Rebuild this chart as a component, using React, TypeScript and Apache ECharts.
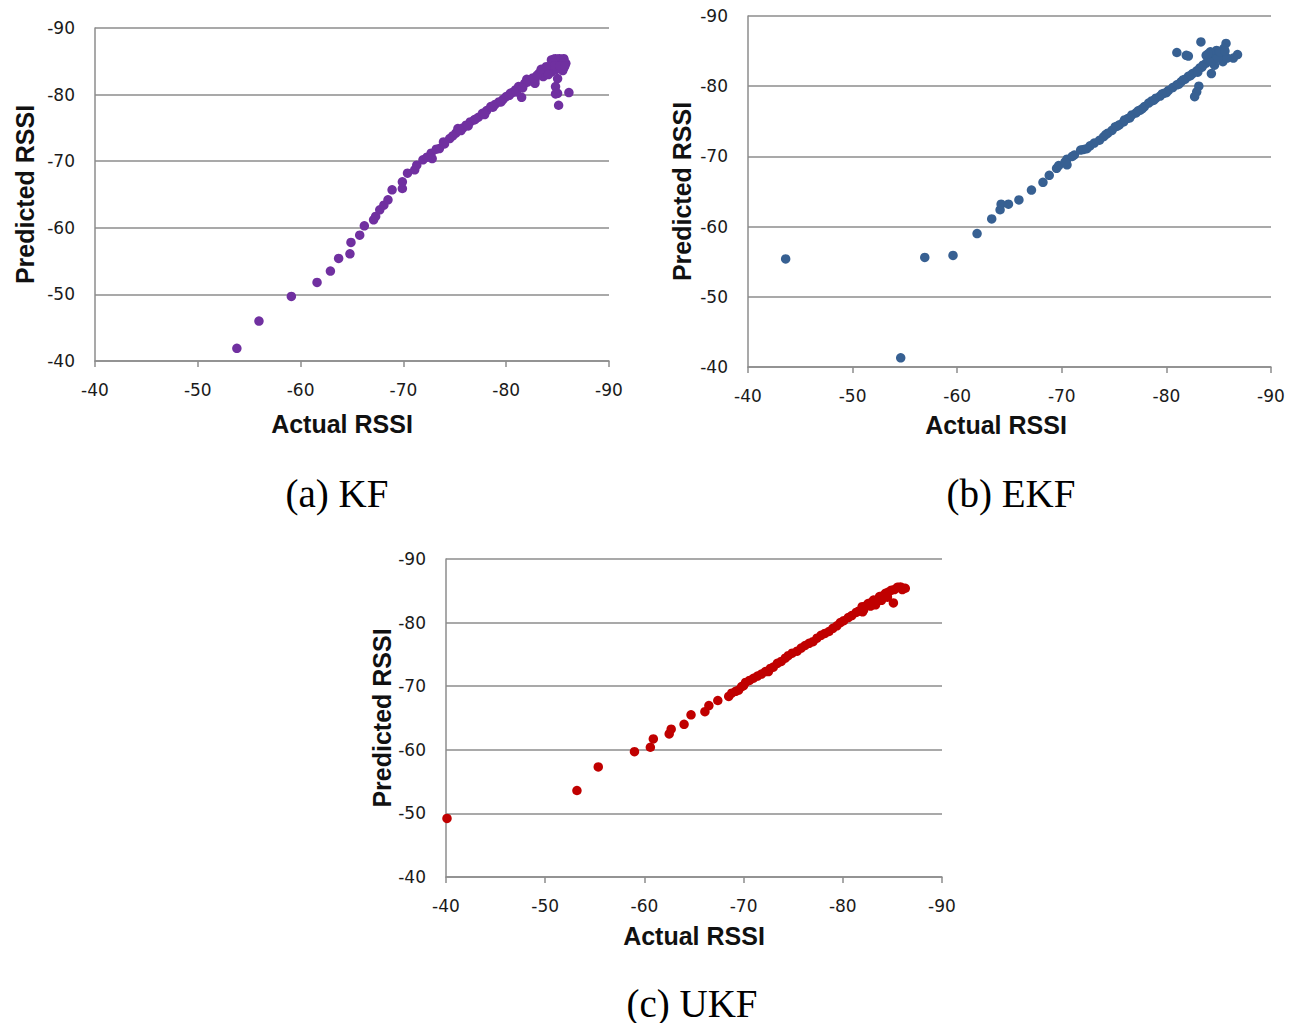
import React, { useEffect, useRef } from "react";
import * as echarts from "echarts";

// ---------- data ----------
const kfActual = [
  -53.8, -55.95, -59.1, -61.6, -62.9, -63.7, -64.8, -64.9, -65.75, -66.2, -67.1, -67.3, -67.7, -68.1, -68.5,
  -68.9, -69.9, -69.9, -70.4, -71.1, -71.3, -71.9, -72.7, -72.8, -73.5, -73.9, -74.5, -75.1, -75.3, -75.8,
  -76.1, -76.5, -76.9, -77.3, -77.7, -78.1, -78.5, -78.9, -79.3, -79.7, -80.0, -80.3, -80.6, -80.9, -81.2,
  -81.5, -81.8, -82.1, -82.4, -82.8, -82.8, -83.2, -83.5, -83.6, -83.8, -84.0, -84.2, -84.4, -84.4, -84.6,
  -84.8, -84.8, -85.0, -84.8, -85.0, -85.1, -85.2, -85.4, -85.6, -85.8, -85.5, -86.1, -85.1, -85.6, -84.8,
  -84.6, -85.1, -85.6, -84.6, -85.6, -84.7, -85.2, -85.7,
  -72.3, -73.2, -74.0, -74.8, -75.6, -76.3, -77.0, -77.9, -78.7, -79.5, -80.4, -81.0, -81.6, -82.0, -82.6,
  -83.0, -83.4, -83.9, -84.1,
];
const kfPredicted = [
  -41.9, -46.0, -49.7, -51.8, -53.5, -55.4, -56.1, -57.8, -58.9, -60.3, -61.2, -61.7, -62.7, -63.4, -64.2,
  -65.7, -65.9, -66.9, -68.2, -68.7, -69.4, -70.2, -71.2, -70.4, -71.9, -72.9, -73.4, -74.2, -74.9, -75.0,
  -75.4, -75.9, -76.2, -76.6, -77.2, -77.6, -78.2, -78.5, -78.9, -79.3, -79.7, -79.9, -80.3, -80.7, -81.2,
  -79.6, -81.7, -81.9, -82.2, -81.7, -82.2, -83.2, -83.4, -82.7, -83.7, -83.9, -84.2, -83.4, -85.2, -84.7,
  -85.4, -83.7, -82.4, -81.2, -80.2, -78.4, -85.4, -84.2, -85.4, -84.7, -83.6, -80.3, -84.9, -84.0, -80.1,
  -85.3, -85.3, -85.3, -84.8, -84.8, -84.3, -84.3, -84.3,
  -70.6, -71.8, -72.6, -73.8, -74.6, -75.3, -76.3, -77.0, -78.1, -78.9, -80.2, -80.4, -81.0, -82.3, -82.5,
  -82.9, -83.8, -84.2, -83.0,
];

const ekfActual = [
  -43.6, -54.6, -56.9, -59.6, -61.9, -63.3, -64.1, -64.2, -64.9, -65.9, -67.1, -68.2, -68.8, -69.5, -69.7,
  -70.5, -70.5, -71.2, -71.8, -72.1, -72.7, -73.6, -74.0, -74.4, -74.8, -75.1, -75.5, -75.9, -76.3, -76.7,
  -77.1, -77.5, -77.9, -78.3, -78.6, -79.0, -79.4, -79.8, -80.2, -80.6, -81.0, -81.4, -81.8, -82.1, -82.5,
  -82.9, -83.2, -83.5, -83.8, -84.1, -84.4, -84.7, -85.0, -85.3, -85.7, -83.3, -81.0, -81.9, -82.1, -86.8,
  -86.4, -84.3, -83.1, -82.9, -82.7, -84.8, -85.4, -83.8, -84.6, -85.5, -84.2, -85.8,
  -74.2, -75.3, -76.5, -77.7, -78.8, -80.0, -81.2, -82.3, -83.4, -84.3, -84.9, -85.1, -85.6, -84.0, -83.0,
  -81.6, -79.6, -77.3, -76.0, -73.1, -72.4, -71.0, -70.3,
];
const ekfPredicted = [
  -55.4, -41.3, -55.6, -55.9, -59.0, -61.1, -62.4, -63.2, -63.2, -63.8, -65.2, -66.3, -67.3, -68.3, -68.7,
  -68.8, -69.6, -70.2, -70.9, -71.0, -71.5, -72.3, -72.8, -73.3, -73.7, -74.2, -74.5, -74.9, -75.4, -75.9,
  -76.2, -76.6, -77.1, -77.6, -77.9, -78.3, -78.6, -79.0, -79.4, -79.8, -80.2, -80.6, -81.0, -81.4, -81.8,
  -82.2, -82.6, -83.0, -83.3, -83.7, -84.0, -84.2, -84.5, -84.7, -86.1, -86.3, -84.8, -84.4, -84.3, -84.5,
  -84.0, -81.8, -80.0, -79.2, -78.5, -85.1, -83.5, -84.4, -83.0, -85.4, -84.9, -84.0,
  -73.1, -74.3, -75.5, -76.8, -78.0, -79.1, -80.3, -81.5, -82.7, -83.5, -84.0, -84.9, -85.0, -84.6, -82.0,
  -80.9, -78.9, -76.5, -75.2, -71.9, -71.1, -70.0, -69.2,
];

const ukfActual = [
  -40.1, -53.2, -55.35, -59.0, -60.6, -60.9, -62.5, -62.7, -64.0, -64.7, -66.1, -66.5, -67.4, -68.5, -69.2,
  -69.8, -70.2, -71.0, -71.4, -72.2, -72.7, -73.4, -74.2, -74.9, -75.8, -76.6, -77.4, -78.2, -79.0, -79.75,
  -80.55, -81.35, -81.95, -82.55, -83.1, -83.7, -84.3, -84.9, -85.5, -86.1, -85.1, -83.3, -82.1, -86.3,
  -68.8, -69.5, -70.0, -70.6, -71.8, -72.5, -73.0, -73.8, -74.5, -75.4, -76.2, -77.0, -77.8, -78.6, -79.4,
  -80.1, -80.9, -81.6, -82.0, -82.3, -82.8, -83.4, -84.0, -84.6, -85.2, -85.8, -86.0, -84.5, -83.9, -82.9,
];
const ukfPredicted = [
  -49.2, -53.6, -57.3, -59.7, -60.4, -61.7, -62.5, -63.25, -64.0, -65.5, -66.0, -66.95, -67.75, -68.4, -69.2,
  -69.95, -70.6, -71.25, -71.6, -72.3, -72.8, -73.6, -74.4, -75.2, -76.0, -76.75, -77.55, -78.3, -79.1, -80.0,
  -80.8, -81.6, -82.5, -83.0, -83.55, -84.1, -84.6, -85.1, -85.55, -85.4, -83.1, -82.8, -82.0, -85.4,
  -68.9, -69.4, -70.1, -70.9, -71.9, -72.3, -73.0, -73.9, -74.8, -75.5, -76.4, -77.0, -78.0, -78.6, -79.5,
  -80.3, -81.1, -81.8, -81.7, -82.6, -82.6, -83.5, -84.2, -84.8, -85.2, -85.6, -85.2, -84.0, -83.5, -83.2,
];

const panelCaptions = ["(a) KF", "(b) EKF", "(c) UKF"];
const xAxisTitle = "Actual RSSI";
const yAxisTitle = "Predicted RSSI";
const seriesColors = ["#7030A0", "#376092", "#C00000"];

// ---------- layout ----------
const grids = [
  { left: 95, top: 28, width: 514, height: 333 },
  { left: 748, top: 16, width: 523, height: 351 },
  { left: 446, top: 559, width: 496, height: 318 },
];
const xNameGap = [50, 45, 46];
const xNameShift = [20, 27, 0];
const yNameGap = [58, 54, 52];
const captionPos = [
  [337, 493],
  [1011, 493],
  [692, 1003],
];

const gray = "#8c8c8c";

export default function App() {
  const ref = useRef<HTMLDivElement>(null);

  useEffect(() => {
    document.body.style.margin = "0";
    if (!ref.current) return;
    const chart = echarts.init(ref.current, undefined, { renderer: "svg" });

    const pairs = [
      [kfActual, kfPredicted],
      [ekfActual, ekfPredicted],
      [ukfActual, ukfPredicted],
    ];

    const labelStyle = {
      margin: 20,
      fontFamily: "DejaVu Sans",
      fontSize: 17,
      color: "#1a1a1a",
      showMinLabel: true,
      showMaxLabel: true,
    };

    const xAxes = grids.map((_, i) => ({
      type: "value",
      gridIndex: i,
      min: -90,
      max: -40,
      interval: 10,
      inverse: true,
      name: xAxisTitle,
      nameLocation: "middle",
      nameGap: xNameGap[i],
      nameTextStyle: {
        fontFamily: "Liberation Sans",
        fontWeight: "bold",
        fontSize: 25,
        color: "#111",
        padding: [0, xNameShift[i], 0, 0],
      },
      axisLine: { show: true, onZero: false, lineStyle: { color: gray, width: 1.5 } },
      axisTick: { show: true, inside: false, length: 6, lineStyle: { color: gray, width: 1.5 } },
      axisLabel: labelStyle,
      splitLine: { show: false },
    }));

    const yAxes = grids.map((_, i) => ({
      type: "value",
      gridIndex: i,
      min: -90,
      max: -40,
      interval: 10,
      inverse: true,
      name: yAxisTitle,
      nameLocation: "middle",
      nameGap: yNameGap[i],
      nameTextStyle: {
        fontFamily: "Liberation Sans",
        fontWeight: "bold",
        fontSize: 25,
        color: "#111",
      },
      axisLine: { show: true, onZero: false, lineStyle: { color: gray, width: 1.5 } },
      axisTick: { show: false },
      axisLabel: labelStyle,
      splitLine: { show: true, lineStyle: { color: gray, width: 1.5 } },
    }));

    const series = pairs.map(([xs, ys], i) => ({
      type: "scatter",
      xAxisIndex: i,
      yAxisIndex: i,
      symbol: "circle",
      symbolSize: 9.5,
      itemStyle: { color: seriesColors[i], opacity: 1 },
      emphasis: { disabled: true },
      data: xs.map((x, k) => [x, ys[k]]),
    }));

    chart.setOption({
      animation: false,
      backgroundColor: "#ffffff",
      grid: grids.map((g) => ({ ...g, containLabel: false })),
      xAxis: xAxes,
      yAxis: yAxes,
      series,
      graphic: panelCaptions.map((t, i) => ({
        type: "text",
        x: captionPos[i][0],
        y: captionPos[i][1],
        style: {
          text: t,
          fontFamily: "Liberation Serif",
          fontSize: 39,
          fill: "#000",
          align: "center",
          verticalAlign: "middle",
        },
      })),
    });

    return () => chart.dispose();
  }, []);

  return <div ref={ref} style={{ width: 1289, height: 1023 }} />;
}
